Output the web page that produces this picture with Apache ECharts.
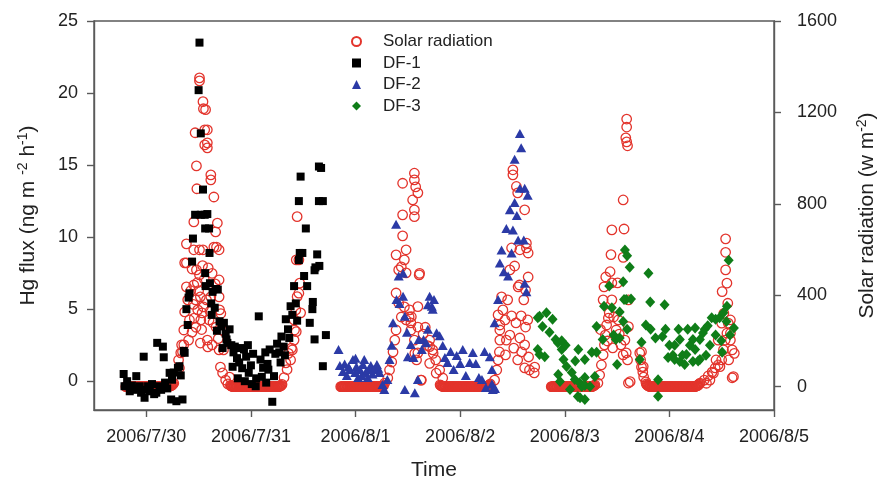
<!DOCTYPE html>
<html>
<head>
<meta charset="utf-8">
<script src="https://cdn.jsdelivr.net/npm/echarts@6/dist/echarts.min.js"></script>
<style>
html,body{margin:0;padding:0;background:#fff;}
#chart{width:879px;height:481px;}
</style>
</head>
<body>
<div id="chart"></div>
<script>
// Time is expressed in hours since 2006/7/30 00:00
const xTickHours = [0, 24, 48, 72, 96, 120, 144];
const xTickLabels = ['2006/7/30', '2006/7/31', '2006/8/1', '2006/8/2', '2006/8/3', '2006/8/4', '2006/8/5'];
const fluxTicks = [0, 5, 10, 15, 20, 25];
const solarTicks = [0, 400, 800, 1200, 1600];

// Night-time solar radiation logged every 10 minutes (W m-2), one run per night
const SOLAR_STEP_H = 1 / 6;
const solarNight1Start = -4.7;
const solarNight1 = [
  0,0,0,0,0,0,0,0,0,0,0,0, 0,0,0,0,0,0,0,0,0,0,0,0, 0,0,0,0,0,0,0,0,0,0,0,0,
  0,0,0,0,0,0,0,0,0,0,0,0, 0,0,0,0,0,0,0,0,0,0,1,2,2,3,4,6,8,12,15
];
const solarNight2Start = 19.3;
const solarNight2 = [
  6,3,2,1,0,0,0,0,0,0,0,0, 0,0,0,0,0,0,0,0,0,0,0,0, 0,0,0,0,0,0,0,0,0,0,0,0,
  0,0,0,0,0,0,0,0,0,0,0,0, 0,0,0,0,0,0,0,0,0,0,0,0, 0,0,0,0,0,0,0,1,2,4,6,10
];
const solarNight3Start = 44.6;
const solarNight3 = [
  0,0,0,0,0,0,0,0,0,0,0,0, 0,0,0,0,0,0,0,0,0,0,0,0, 0,0,0,0,0,0,0,0,0,0,0,0,
  0,0,0,0,0,0,0,0,0,0,0,0, 0,0,0,0,0,0,0,0,1,2,3,5
];
const solarNight4Start = 67.4;
const solarNight4 = [
  8,5,3,2,1,0,0,0,0,0,0,0, 0,0,0,0,0,0,0,0,0,0,0,0, 0,0,0,0,0,0,0,0,0,0,0,0,
  0,0,0,0,0,0,0,0,0,0,0,0, 0,0,0,0,0,0,0,0,0,0,0,0, 0,0,0,0,1,2,3,5,8,12
];
const solarNight5Start = 92.9;
const solarNight5 = [
  0,0,0,0,0,0,0,0,0,0,0,0, 0,0,0,0,0,0,0,0,0,0,0,0, 0,0,0,0,0,0,0,0,0,0,0,0,
  0,0,0,0,0,0,0,0,0,0,0,0, 0,0,0,0,0,0,0,0,1,2,3,5,8
];
const solarNight6Start = 114.7;
const solarNight6 = [
  12,8,5,3,2,1,0,0,0,0,0,0, 0,0,0,0,0,0,0,0,0,0,0,0, 0,0,0,0,0,0,0,0,0,0,0,0,
  0,0,0,0,0,0,0,0,0,0,0,0, 0,0,0,0,0,0,0,0,0,0,0,0, 0,0,0,0,0,0,0,1,2,3,4,6,9,12,16
];

// Daytime solar radiation, [hour, W m-2]
const solarDay = [
  // 7/30
  [7.4,117],[7.6,82],[7.9,148],[8.1,183],[8.3,152],[8.6,248],[8.6,183],[8.8,327],[8.8,542],[9.2,625],[9.2,542],
  [9.2,437],[9.5,380],[9.7,204],[9.9,292],[10.2,420],[10.5,515],[10.5,239],[10.8,360],[10.9,721],[10.9,599],
  [10.9,445],[11.0,300],[11.2,1111],[11.3,380],[11.4,260],[11.5,966],[11.5,511],[11.6,866],[11.7,455],[11.8,336],
  [12.0,420],[12.2,1351],[12.2,1338],[12.2,599],[12.2,489],[12.4,393],[12.4,191],[12.5,292],[12.7,250],[12.8,323],
  [12.9,530],[13.0,1247],[13.0,599],[13.1,1216],[13.1,349],[13.3,470],[13.4,1124],[13.4,1058],[13.6,1212],
  [13.8,380],[14.0,1124],[14.0,1067],[14.0,1045],[14.0,204],[14.1,174],[14.2,520],[14.4,292],[14.6,330],
  [14.8,927],[14.8,905],[14.8,393],[15.1,496],[15.1,183],[15.3,280],[15.5,830],[15.5,611],[15.8,450],[15.9,677],
  [16.0,260],[16.1,611],[16.3,716],[16.5,210],[16.7,599],[16.7,467],[16.7,393],[16.7,161],[16.8,336],[17.0,86],
  [17.1,320],[17.3,248],[17.5,60],[17.7,161],[18.2,29],[18.7,12],[19.1,42],
  // 7/31 morning
  [31.6,40],[32.0,104],[32.3,75],[32.6,146],[33.1,117],[33.3,169],[33.5,161],[33.9,292],[33.9,204],[34.0,248],
  [34.3,336],[34.4,241],[34.4,555],[34.6,394],[34.6,744],[35.0,409],[35.0,555],[35.2,453],[35.4,323],
  // 8/1
  [54.7,16],[55.4,38],[55.8,73],[56.3,108],[56.6,152],[57.0,204],[57.3,248],
  [58.8,890],[61.5,934],[61.5,905],[61.8,874],[62.3,848],[61.1,817],[61.5,774],[61.5,744],[58.8,752],[58.8,660],
  [59.6,599],[57.3,577],[59.2,555],[59.6,498],[58.5,524],[57.9,511],[62.6,489],[57.3,410],[57.9,366],[59.2,349],
  [60.3,305],[58.5,305],[59.6,292],[60.7,279],[62.3,350],[60.7,248],[62.3,261],[61.5,204],[62.3,148],[63.0,29],
  [62.7,496],[63.1,29],[60.4,336],[60.8,306],[61.6,146],[62.0,117],[63.5,230],[64.0,260],[64.5,180],
  [65.0,204],[65.7,161],[66.4,117],[67.3,73],[68.0,38],[65.0,175],[65.8,146],[65.0,102],[66.5,59],
  // 8/2
  [79.9,29],[80.4,73],[80.7,117],[81.0,152],[81.1,204],[81.1,248],
  [84.1,949],[84.1,927],[84.9,876],[85.2,848],[86.8,774],[87.2,628],[87.2,607],[85.7,599],[83.8,607],[87.6,585],
  [83.4,511],[84.5,528],[87.6,480],[85.3,437],[82.9,380],[81.8,336],[82.3,292],[83.8,310],[84.8,279],[86.0,310],
  [87.0,261],[87.5,292],[80.7,314],[81.1,270],[83.4,226],[85.7,213],[86.8,183],[84.3,169],[82.4,139],[87.7,130],
  [85.2,117],[86.8,82],[87.9,73],[86.1,152],[82.6,204],[81.5,393],[86.6,380],[85.6,445],[87.0,423],[89.1,86],
  [89.0,60],
  // 8/3
  [103.6,16],[104.0,51],[104.4,95],[104.8,139],[105.1,183],[105.3,226],[105.6,270],[106.0,300],
  [104.2,250],[105.8,200],[107.0,170],[108.5,230],
  [110.2,1171],[110.2,1136],[110.0,1089],[110.2,1071],[110.4,1054],[109.4,817],[106.8,686],[109.6,690],
  [106.6,578],[109.4,566],[106.4,503],[105.4,480],[105.0,437],[106.8,454],[108.1,454],[110.6,380],[104.8,380],
  [106.2,323],[107.2,305],[108.3,292],[110.6,263],[109.8,204],[110.4,117],[110.6,16],[111.0,22],[110.1,148],
  [106.8,380],[107.8,248],[108.9,183],[109.4,139],
  [113.2,148],[113.4,117],[113.6,86],[113.9,64],[114.1,42],[114.6,21],[113.6,153],[114.0,88],
  // 8/4 morning
  [128.0,29],[128.9,47],[129.8,64],[130.5,82],[131.2,95],[130.7,117],[128.5,15],[129.3,29],[130.1,59],[131.6,88],
  [132.0,117],[132.4,161],[132.8,204],[133.2,234],[134.0,204],[134.4,161],[134.7,44],[132.0,278],[133.5,278],
  [132.9,647],[132.9,588],[132.9,511],[133.2,453],[132.1,416],[133.4,365],[132.5,321],[134.0,292],[134.0,234],
  [131.2,204],[134.9,146],[133.6,117],[134.4,39]
];

// Hg flux at site DF-1, [hour, ng m-2 h-1]
const df1 = [
  [-5.2,0.5],[-5.0,-0.35],[-4.4,0.0],[-3.8,-0.7],[-3.3,-0.3],[-2.9,-0.6],[-2.3,0.35],[-2.0,-0.5],[-1.5,-0.35],
  [-1.2,-0.8],[-0.6,1.7],[-0.4,-1.15],[-0.2,-0.6],[0.4,-0.35],[0.8,-0.7],[1.3,-0.2],[1.8,-0.9],[2.3,-0.8],
  [2.5,2.66],[3.05,-0.35],[3.4,-0.6],[3.8,2.4],[4.0,1.66],[4.3,-0.1],[4.8,-0.5],[5.35,0.58],[5.7,-1.27],
  [5.9,0.1],[6.3,0.6],[6.9,-1.39],[7.25,0.93],[7.6,1.04],[7.9,0.4],[8.3,-1.27],[8.6,2.1],[8.8,1.97],[9.2,5.0],
  [9.5,3.9],[9.7,5.8],[9.9,6.1],[10.5,8.3],[10.7,9.9],[11.2,11.55],[12.0,20.2],[12.2,23.5],[12.5,17.2],
  [12.5,11.55],[13.0,13.3],[13.4,11.55],[13.5,10.6],[13.5,7.5],[13.6,6.6],[14.0,11.6],[14.4,10.6],[14.5,8.9],
  [14.6,6.8],[14.9,5.4],[15.0,4.6],[15.2,6.2],[15.7,5.1],[16.0,6.4],[16.2,3.5],[16.4,6.36],[16.8,4.16],
  [17.2,3.8],[17.5,2.3],[17.8,4.05],[18.2,3.3],[18.4,2.9],[18.6,2.66],[19.1,3.6],[19.5,2.5],[19.8,1.0],
  [20.0,2.0],[20.3,2.4],[20.8,1.6],[21.0,0.2],[21.3,1.3],[21.6,2.3],[22.0,0.9],[22.4,2.2],[22.6,0.0],[22.9,1.7],
  [23.3,2.5],[23.5,0.58],[24.0,1.1],[24.2,-0.2],[24.5,1.9],[25.1,-0.35],[25.2,0.2],[25.8,4.5],[26.2,1.5],
  [26.5,0.3],[26.8,0.93],[27.3,2.0],[27.5,-0.1],[27.8,1.2],[28.0,0.8],[28.3,2.2],[28.9,-1.43],[29.3,0.35],
  [29.6,1.9],[30.0,2.6],[30.5,2.0],[30.8,1.3],[31.0,3.1],[31.5,2.4],[31.8,1.8],[32.0,4.3],[32.5,3.6],[32.8,3.0],
  [33.1,5.2],[33.5,4.6],[33.9,6.6],[34.3,5.4],[34.6,4.2],[35.0,8.4],[35.0,12.5],[35.2,8.9],[35.4,14.2],
  [35.8,8.9],[36.2,7.3],[36.6,10.6],[36.9,6.6],[37.5,4.05],[38.1,5.0],[38.2,5.5],[38.6,7.7],[38.6,2.9],
  [38.8,7.9],[39.2,8.8],[39.6,14.9],[39.6,12.5],[39.7,8.0],[40.1,14.8],[40.5,12.5],[40.5,1.04],[41.2,3.2]
];

// Hg flux at site DF-2
const df2 = [
  [44.1,2.2],[44.4,1.09],[45.1,0.67],[45.5,1.2],[46.0,0.4],[46.4,1.0],[46.7,0.81],[47.4,1.5],[47.9,0.6],
  [48.0,1.6],[48.2,1.0],[48.6,0.26],[49.0,0.81],[49.4,0.4],[49.7,1.16],[50.0,1.5],[50.3,0.6],[50.8,0.26],
  [51.0,0.8],[51.5,1.09],[51.9,0.5],[52.2,0.81],[52.9,1.16],[53.2,0.9],[53.5,0.6],[54.2,-0.23],[54.6,-0.58],
  [55.3,0.12],[55.8,1.5],[56.3,2.5],[56.6,4.05],[57.3,10.9],[57.4,5.67],[57.9,7.3],[58.1,5.4],[58.9,7.5],
  [58.9,5.9],[59.3,4.5],[59.8,3.4],[60.0,1.7],[59.3,-0.58],[60.7,2.55],[61.3,1.64],[61.6,-0.8],[62.3,0.12],
  [62.5,2.9],[63.2,2.2],[63.6,2.9],[64.2,2.66],[64.6,3.6],[64.6,5.3],[65.5,5.2],[66.0,5.67],[65.0,5.9],
  [65.7,5.0],[66.6,3.36],[67.3,3.15],[68.0,2.47],[68.5,1.64],[69.1,1.3],[69.8,2.06],[70.5,0.81],[71.2,1.78],
  [72.0,1.23],[72.6,2.2],[73.3,0.4],[74.2,1.3],[74.9,1.99],[75.6,1.23],[76.3,0.26],[77.0,0.12],[77.6,2.06],
  [77.9,-0.44],[78.8,1.7],[79.3,0.81],[79.3,-0.2],[79.5,-0.58],[80.0,-0.5],[79.9,4.05],[80.7,5.67],[81.1,8.2],
  [81.5,9.1],[82.0,7.6],[82.6,10.6],[83.0,7.3],[83.4,11.9],[83.8,8.9],[84.1,10.5],[84.5,12.4],[84.5,15.4],
  [85.0,11.5],[85.3,9.8],[85.7,13.4],[85.7,17.2],[86.0,16.2],[86.6,9.8],[86.8,13.4],[86.8,6.8],[87.2,6.2],
  [87.5,12.9]
];

// Hg flux at site DF-3
const df3 = [
  [89.8,4.4],[90.2,4.5],[91.8,4.75],[93.2,4.3],[90.9,3.8],[92.5,3.4],[93.9,2.9],[89.8,2.2],[90.2,1.85],
  [91.4,1.7],[94.4,2.66],[95.3,2.2],[96.2,2.5],[95.7,1.5],[96.4,1.02],[97.6,0.6],[98.3,0.12],[99.4,-0.1],
  [99.9,-0.37],[99.0,-1.06],[100.6,-1.27],[97.2,-0.58],[94.9,-0.02],[94.5,0.46],[95.3,2.8],[99.1,2.2],
  [98.4,1.4],[100.6,-0.3],[99.5,-1.15],[100.6,0.26],[100.6,1.5],[102.2,2.0],[102.9,0.33],[101.8,-0.37],
  [103.3,2.0],[103.3,3.8],[104.7,2.9],[105.0,5.2],[106.2,6.6],[106.8,5.1],[107.2,3.2],[107.7,2.9],[108.0,1.16],
  [108.6,4.8],[109.6,5.67],[109.8,9.1],[110.3,8.7],[110.9,7.9],[109.4,6.9],[110.1,5.67],[111.2,5.7],
  [109.4,4.15],[110.3,3.6],[108.6,3.0],[115.2,7.5],[115.6,5.5],[114.6,3.9],[115.7,3.6],[113.6,2.7],[116.8,3.0],
  [113.2,1.5],[117.4,0.1],[117.4,-1.04],[118.4,3.1],[118.9,5.3],[119.1,3.6],[119.7,1.64],[120.0,2.5],
  [120.8,1.8],[121.2,2.5],[121.2,1.5],[122.1,3.6],[122.4,2.9],[122.4,1.37],[123.0,1.8],[123.5,1.16],
  [123.9,1.85],[124.2,3.6],[124.7,2.5],[125.4,2.9],[125.4,1.37],[125.9,2.2],[125.9,3.7],[126.6,1.4],[127.0,2.9],
  [127.0,1.5],[127.7,3.35],[128.1,3.6],[128.4,1.8],[128.8,3.85],[129.3,2.5],[129.7,4.4],[130.6,4.3],
  [130.6,3.2],[131.5,4.4],[131.9,2.8],[132.1,2.0],[132.4,4.75],[133.1,4.15],[133.2,5.2],[133.6,8.4],
  [133.9,3.2],[134.8,3.7]
];

// Expand each logged night run into [hour, value] pairs and join with the daytime readings
function nightRun(start, values) {
  return values.map((v, i) => [+(start + i * SOLAR_STEP_H).toFixed(3), v]);
}
const solarRadiation = [].concat(
  nightRun(solarNight1Start, solarNight1),
  nightRun(solarNight2Start, solarNight2),
  nightRun(solarNight3Start, solarNight3),
  nightRun(solarNight4Start, solarNight4),
  nightRun(solarNight5Start, solarNight5),
  nightRun(solarNight6Start, solarNight6),
  solarDay
);

const FONT = '"Liberation Sans", Arial, Helvetica, sans-serif';
const AXIS_COLOR = '#5a5a5a';
const TEXT_COLOR = '#222';

const chart = echarts.init(document.getElementById('chart'), null, { renderer: 'canvas' });

const axisLineStyle = { color: AXIS_COLOR, width: 1.4 };
const nameRich = {
  b: { fontSize: 21, color: TEXT_COLOR, fontFamily: FONT, lineHeight: 24 },
  s: { fontSize: 14, color: TEXT_COLOR, fontFamily: FONT, verticalAlign: 'top', lineHeight: 24 }
};

chart.setOption({
  animation: false,
  backgroundColor: '#fff',
  textStyle: { fontFamily: FONT },
  grid: {
    left: 94, right: 105, top: 21, bottom: 71,
    outerBoundsMode: 'none',
    show: true, borderColor: AXIS_COLOR, borderWidth: 1.4, backgroundColor: 'transparent'
  },
  legend: {
    orient: 'vertical',
    left: 346,
    top: 28,
    itemWidth: 9,
    itemHeight: 9,
    itemGap: 4.5,
    selectedMode: false,
    formatter: name => '{t|' + name + '}',
    textStyle: {
      fontFamily: FONT, fontSize: 17, color: TEXT_COLOR,
      rich: { t: { fontFamily: FONT, fontSize: 17, color: TEXT_COLOR, lineHeight: 20, padding: [0, 0, 0, 17] } }
    },
    data: ['Solar radiation', 'DF-1', 'DF-2', 'DF-3']
  },
  xAxis: {
    type: 'value',
    min: -12,
    max: 144,
    splitLine: { show: false },
    axisLine: { show: true, onZero: false, lineStyle: axisLineStyle },
    axisTick: { show: true, inside: false, length: 7, customValues: xTickHours, lineStyle: axisLineStyle },
    axisLabel: {
      customValues: xTickHours,
      margin: 18,
      fontSize: 18,
      color: TEXT_COLOR,
      fontFamily: FONT,
      formatter: v => xTickLabels[xTickHours.indexOf(v)] || ''
    },
    name: 'Time',
    nameLocation: 'middle',
    nameGap: 50,
    nameTextStyle: { fontSize: 21, color: TEXT_COLOR, fontFamily: FONT }
  },
  yAxis: [
    {
      type: 'value',
      position: 'left',
      min: -2,
      max: 25,
      splitLine: { show: false },
      axisLine: { show: true, onZero: false, lineStyle: axisLineStyle },
      axisTick: { show: true, inside: false, length: 7, customValues: fluxTicks, lineStyle: axisLineStyle },
      axisLabel: {
        customValues: fluxTicks, margin: 16, fontSize: 18, color: TEXT_COLOR, fontFamily: FONT,
        formatter: v => String(v)
      },
      name: '{b|Hg flux (ng m }{s|-2}{b| h}{s|-1}{b|)}',
      nameLocation: 'middle',
      nameRotate: 90,
      nameGap: 54,
      nameTextStyle: { color: TEXT_COLOR, fontFamily: FONT, rich: nameRich }
    },
    {
      type: 'value',
      position: 'right',
      min: -102,
      max: 1600,
      splitLine: { show: false },
      axisLine: { show: true, onZero: false, lineStyle: axisLineStyle },
      axisTick: { show: true, inside: false, length: 7, customValues: solarTicks, lineStyle: axisLineStyle },
      axisLabel: {
        customValues: solarTicks, margin: 23, fontSize: 18, color: TEXT_COLOR, fontFamily: FONT,
        formatter: v => String(v)
      },
      name: '{b|Solar radiation (w m}{s|-2}{b|)}',
      nameLocation: 'middle',
      nameRotate: 90,
      nameGap: 81,
      nameTextStyle: { color: TEXT_COLOR, fontFamily: FONT, rich: nameRich }
    }
  ],
  series: [
    {
      name: 'Solar radiation',
      type: 'scatter',
      yAxisIndex: 1,
      data: solarRadiation,
      symbol: 'circle',
      symbolSize: 9.5,
      itemStyle: { color: 'rgba(255,255,255,0)', borderColor: '#e3342c', borderWidth: 1.3, opacity: 1 },
      emphasis: { disabled: true },
      z: 2
    },
    {
      name: 'DF-1',
      type: 'scatter',
      yAxisIndex: 0,
      data: df1,
      symbol: 'rect',
      symbolSize: 8,
      itemStyle: { color: '#000', opacity: 1 },
      emphasis: { disabled: true },
      z: 3
    },
    {
      name: 'DF-2',
      type: 'scatter',
      yAxisIndex: 0,
      data: df2,
      symbol: 'triangle',
      symbolSize: [10, 9],
      itemStyle: { color: '#2b3aa6', opacity: 1 },
      emphasis: { disabled: true },
      z: 4
    },
    {
      name: 'DF-3',
      type: 'scatter',
      yAxisIndex: 0,
      data: df3,
      symbol: 'diamond',
      symbolSize: [10, 11],
      itemStyle: { color: '#0f7d18', opacity: 1 },
      emphasis: { disabled: true },
      z: 5
    }
  ]
});
</script>
</body>
</html>
